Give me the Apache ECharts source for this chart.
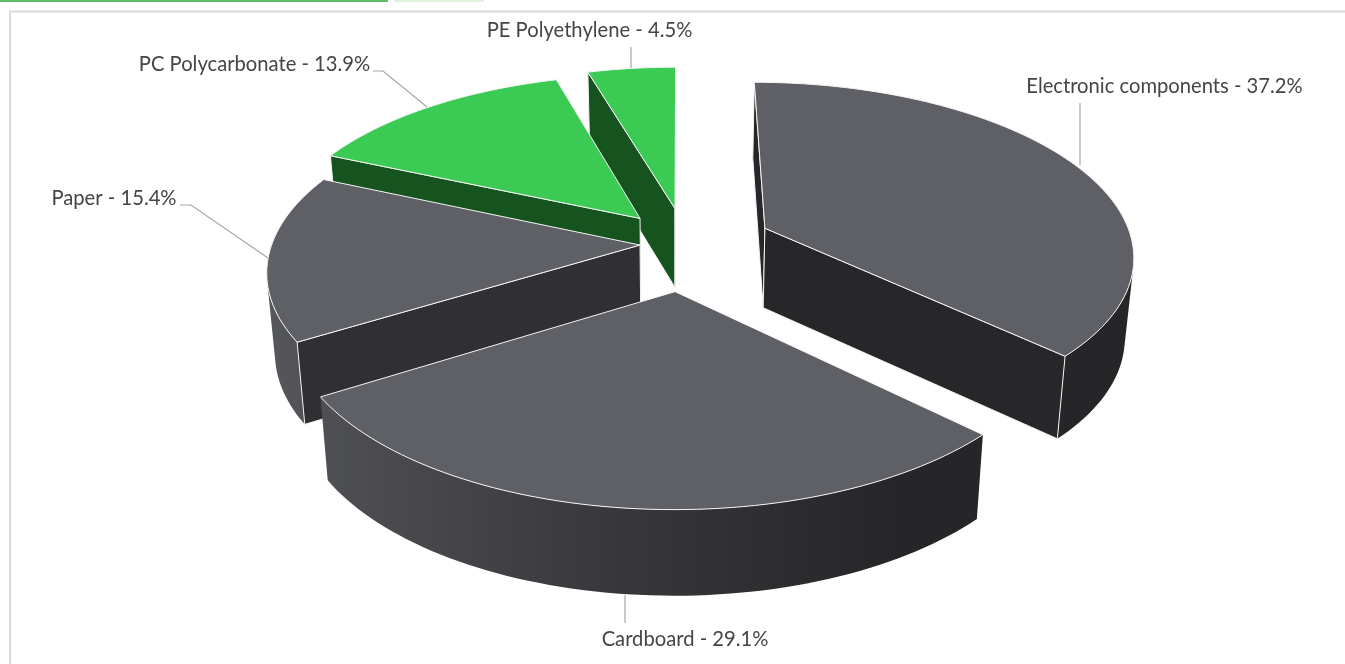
<!DOCTYPE html>
<html><head><meta charset="utf-8">
<style>html,body{margin:0;padding:0;background:#fff}#c{width:1345px;height:664px}</style>
<script src="https://cdn.jsdelivr.net/npm/echarts@6/dist/echarts.min.js"></script>
</head><body><div id="c"></div>
<script>
const categories = ['Electronic components','Cardboard','Paper','PC Polycarbonate','PE Polyethylene'];
const values = [37.2,29.1,15.4,13.9,4.5];
const groups = ['grey','grey','grey','green','green'];

// layout of the tilted disc
const CX=680, CY=250, A=370, B=173, K=0.145, XS=0.98, H=80, START=0;
const shifts=[[0.2337,-0.128],[-0.013,0.2325],[-0.1085,-0.0287],[-0.111,-0.1875],[-0.014,-0.248]];
const paint=[3,4,2,1,0];
const labelPos=[[1164.5,86],[685,639],[114,198],[254.5,64],[589.5,30]];
const leaders=[
 [[1080,165],[1080,103]],
 [[625,595],[625,623]],
 [[268,258],[191,205],[180,205]],
 [[427,107],[383,71],[373,71]],
 [[631,68],[631,47]]
];
const FONT='Lato';
const total=values.reduce((a,b)=>a+b,0);
const P=(u,v)=>{const s=1/(1-K*v);return [CX+A*u*s,CY+B*v*s];};
const Q=(u,v)=>{const s=1/(1-K*v);return [CX+A*XS*u*s,CY+B*v*s+H*(1+0.35*(s-1))];};
const area=p=>{let a=0;for(let i=0;i<p.length;i++){const q=p[(i+1)%p.length];a+=p[i][0]*q[1]-q[0]*p[i][1];}return a/2;};
const wallGradient={type:'linear',global:true,x:270,y:0,x2:1135,y2:0,colorStops:[
  {offset:0,color:'#56575b'},{offset:0.06,color:'#4f5054'},{offset:0.41,color:'#37373a'},
  {offset:0.72,color:'#262629'},{offset:1,color:'#262629'}]};
const startDeg=i=>START+values.slice(0,i).reduce((a,b)=>a+b,0)/total*360;

function renderItem(params,api){
  const i=params.dataIndex, val=api.value(0);
  const a0=startDeg(i), a1=a0+val/total*360;
  const [u0,v0]=shifts[i], green=groups[i]==='green';
  const top=green?'#3bcb55':'#5f6065', side=green?'#15531f':(i===0?'#27272a':'#302f32');
  const z=paint[i]*100;
  const n=Math.max(8,Math.round((a1-a0)/1.5));
  const rim=[];
  for(let j=0;j<=n;j++){const d=(a0+(a1-a0)*j/n)*Math.PI/180;rim.push([u0+Math.sin(d),v0-Math.cos(d)]);}
  const kids=[];
  // outer wall: the part of the rim that faces the viewer, as one shape
  const upper=[],lower=[];
  for(let j=0;j<n;j++){
    const q=[P(...rim[j]),P(...rim[j+1]),Q(...rim[j+1]),Q(...rim[j])];
    if(area(q)<0){
      if(!upper.length){upper.push(q[0]);lower.push(q[3]);}
      upper.push(q[1]);lower.push(q[2]);
    }
  }
  if(upper.length){
    kids.push({type:'polygon',shape:{points:upper.concat(lower.reverse())},
      style:{fill:green?side:wallGradient},z2:z+1});
  }
  // radial walls
  const first=rim[0], last=rim[n];
  const w1=[P(u0,v0),P(...first),Q(...first),Q(u0,v0)];
  const w2=[P(...last),P(u0,v0),Q(u0,v0),Q(...last)];
  [w1,w2].forEach(q=>{
    if(area(q)<0) kids.push({type:'polygon',shape:{points:q},style:{fill:side,stroke:'#f2f2f2',lineWidth:1},z2:z+2});
  });
  // top face
  const face=[P(u0,v0)].concat(rim.map(r=>P(...r)));
  kids.push({type:'polygon',shape:{points:face},style:{fill:top,stroke:'#f4f4f4',lineWidth:1},z2:z+3});
  // leader and label
  kids.push({type:'polyline',shape:{points:leaders[i]},style:{fill:null,stroke:'#a6a6a6',lineWidth:1.2},z2:1000});
  kids.push({type:'text',x:labelPos[i][0],y:labelPos[i][1],style:{
    text:categories[i]+' - '+val+'%',fill:'#454545',font:'20.2px '+FONT,align:'center',verticalAlign:'middle'},z2:1001});
  return {type:'group',children:kids};
}

const chart=echarts.init(document.getElementById('c'),null,{renderer:'canvas'});
chart.setOption({
  animation:false,
  backgroundColor:'#fff',
  graphic:[
    {type:'rect',shape:{x:0,y:0,width:388,height:2},style:{fill:'#5fbf66'}},
    {type:'rect',shape:{x:394,y:0,width:90,height:2},style:{fill:'#dff2df'}},
    {type:'polyline',shape:{points:[[10,664],[10,11.5],[1345,11.5]]},style:{fill:null,stroke:'#d9d9d9',lineWidth:2}}
  ],
  series:[{type:'custom',coordinateSystem:'none',renderItem,data:values.map((v,i)=>({name:categories[i],value:[v]})),silent:true,clip:false}]
});
</script></body></html>
